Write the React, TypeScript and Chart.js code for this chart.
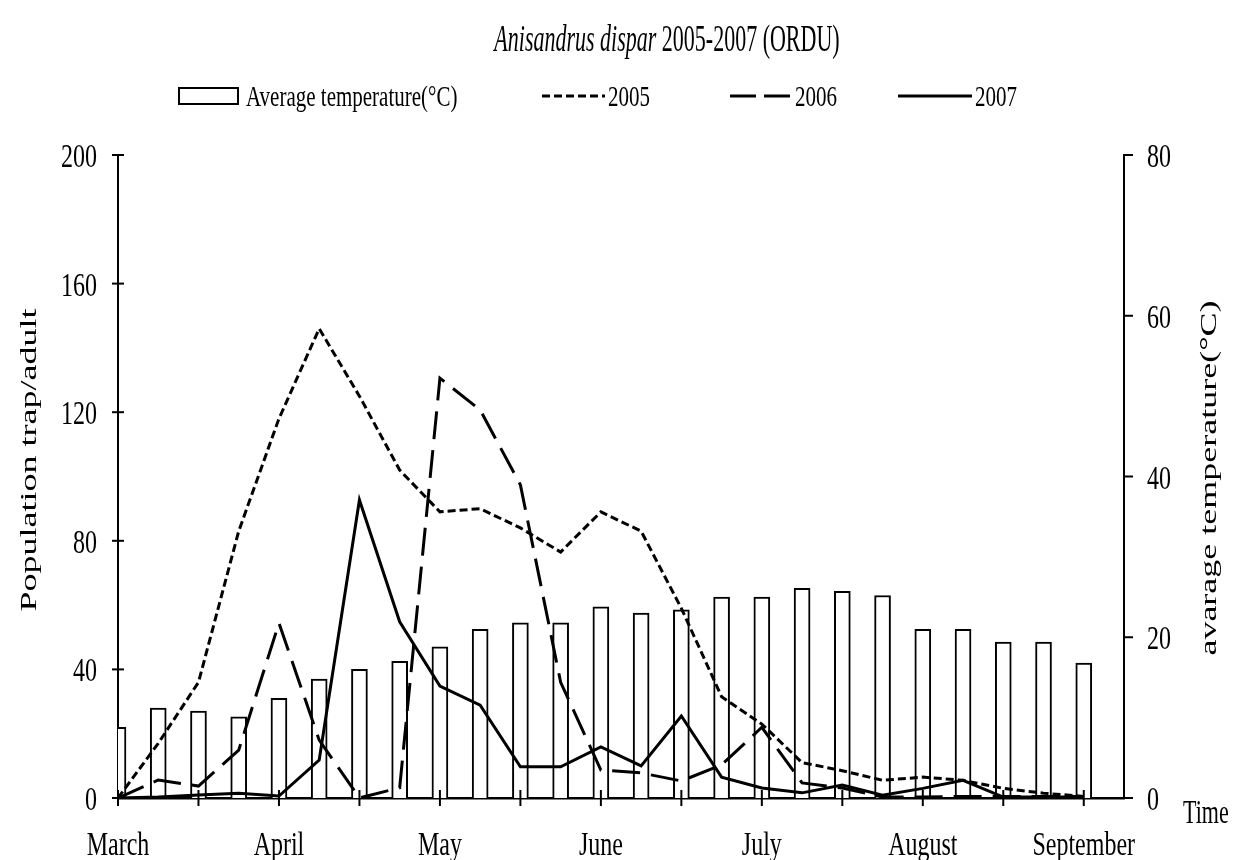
import React, { useEffect, useRef } from 'react';
import { Chart, registerables } from 'chart.js';

Chart.register(...registerables);

// Sampling dates (roughly weekly); the last empty slot is the end of the time axis.
const sampleDates = [
  '1 Mar', '8 Mar', '16 Mar', '24 Mar',
  '1 Apr', '8 Apr', '16 Apr', '24 Apr',
  '1 May', '8 May', '16 May', '24 May',
  '1 Jun', '8 Jun', '16 Jun', '24 Jun',
  '1 Jul', '8 Jul', '16 Jul', '24 Jul',
  '1 Aug', '8 Aug', '16 Aug', '24 Aug',
  '1 Sep', '',
];

const monthTicks = ['March', 'April', 'May', 'June', 'July', 'August', 'September'];

const avgTemperature = [
  8.8, 11.2, 10.8, 10.1, 12.4, 14.8, 16.0, 17.0, 18.8, 21.0, 21.8, 21.8, 23.8,
  23.0, 23.4, 25.0, 25.0, 26.1, 25.7, 25.2, 21.0, 21.0, 19.4, 19.4, 16.8,
];

const pop2005 = [
  0, 17, 36, 83, 118, 146, 125, 102, 89, 90, 84, 76.5, 89, 83, 59, 31.5, 23, 11,
  8.5, 5.5, 6.5, 5.5, 3, 1.5, 0.5,
];

const pop2006 = [
  0, 5.6, 3.7, 14.9, 54.4, 18, 0, 3.2, 130.6, 120.7, 97.4, 36, 8.7, 7.8, 5.3,
  10.3, 22, 4.7, 3.1, 0.3, 0.3, 0.5, 0.5, 0.5, 0.5,
];

const pop2007 = [
  0, 0.3, 0.9, 1.5, 0.6, 11.8, 92.7, 54.8, 34.8, 28.9, 9.7, 9.7, 15.9, 10.0,
  25.5, 6.5, 3.1, 1.6, 4.0, 0.9, 3.0, 5.5, 0.3, 0.3, 0.3,
];

const titleItalic = 'Anisandrus dispar';
const titleRest = ' 2005-2007 (ORDU)';
const leftAxisTitle = 'Population trap/adult';
const rightAxisTitle = 'avarage temperature(°C)';
const timeLabel = 'Time';
const legendLabels = ['Average temperature(°C)', '2005', '2006', '2007'];

const SERIF = '"Liberation Serif", "Times New Roman", serif';

const DASH_2005 = [8, 4];
const DASH_2006 = [28, 11];

function drawStretched(
  ctx: CanvasRenderingContext2D,
  text: string,
  x: number,
  y: number,
  font: string,
  sy: number,
  align: CanvasTextAlign = 'left',
) {
  ctx.save();
  ctx.font = font;
  ctx.textAlign = align;
  ctx.textBaseline = 'alphabetic';
  ctx.translate(x, y);
  ctx.scale(1, sy);
  ctx.fillText(text, 0, 0);
  ctx.restore();
}

const decorPlugin = {
  id: 'decor',
  afterDraw(chart: any) {
    const ctx: CanvasRenderingContext2D = chart.ctx;
    const area = chart.chartArea;
    const xs = chart.scales.x;
    const ys = chart.scales.y;
    const y1s = chart.scales.y1;

    ctx.save();
    ctx.fillStyle = '#000';
    ctx.strokeStyle = '#000';

    // tick marks
    ctx.lineWidth = 2;
    for (let i = 0; i < sampleDates.length - 1; i += 2) {
      const px = xs.getPixelForValue(i);
      ctx.beginPath();
      ctx.moveTo(px, area.bottom - 8);
      ctx.lineTo(px, area.bottom + 8);
      ctx.stroke();
    }
    ys.ticks.forEach((t: any) => {
      const py = ys.getPixelForValue(t.value);
      ctx.beginPath();
      ctx.moveTo(area.left - 6, py);
      ctx.lineTo(area.left + 6, py);
      ctx.stroke();
    });
    y1s.ticks.forEach((t: any) => {
      const py = y1s.getPixelForValue(t.value);
      ctx.beginPath();
      ctx.moveTo(area.right, py);
      ctx.lineTo(area.right + 9, py);
      ctx.stroke();
    });

    // tick labels (taken from the library's scales), vertically stretched like the source
    const tf = `24px ${SERIF}`;
    ys.ticks.forEach((t: any) => {
      const py = ys.getPixelForValue(t.value);
      drawStretched(ctx, String(t.value), area.left - 21, py + 12, tf, 1.4, 'right');
    });
    y1s.ticks.forEach((t: any) => {
      const py = y1s.getPixelForValue(t.value);
      drawStretched(ctx, String(t.value), area.right + 23, py + 12, tf, 1.4, 'left');
    });
    monthTicks.forEach((m, k) => {
      const px = xs.getPixelForValue(k * 4);
      drawStretched(ctx, m, px, area.bottom + 57, tf, 1.4, 'center');
    });

    // title
    const fItalic = `italic 22px ${SERIF}`;
    const fReg = `22px ${SERIF}`;
    ctx.font = fItalic;
    const w1 = ctx.measureText(titleItalic).width;
    ctx.font = fReg;
    const w2 = ctx.measureText(titleRest).width;
    const tx = 667 - (w1 + w2) / 2;
    drawStretched(ctx, titleItalic, tx, 51, fItalic, 1.7);
    drawStretched(ctx, titleRest, tx + w1, 51, fReg, 1.7);

    // legend
    const lf = `21px ${SERIF}`;
    const ly = 96;
    const lb = 106;
    ctx.lineWidth = 2;
    ctx.strokeRect(179, 88, 59, 16);
    drawStretched(ctx, legendLabels[0], 246, lb, lf, 1.4);

    ctx.lineWidth = 3;
    ctx.setLineDash(DASH_2005);
    ctx.beginPath();
    ctx.moveTo(542, ly);
    ctx.lineTo(605, ly);
    ctx.stroke();
    drawStretched(ctx, legendLabels[1], 608, lb, lf, 1.4);

    ctx.setLineDash([26, 8]);
    ctx.beginPath();
    ctx.moveTo(730, ly);
    ctx.lineTo(792, ly);
    ctx.stroke();
    drawStretched(ctx, legendLabels[2], 795, lb, lf, 1.4);

    ctx.setLineDash([]);
    ctx.beginPath();
    ctx.moveTo(898, ly);
    ctx.lineTo(972, ly);
    ctx.stroke();
    drawStretched(ctx, legendLabels[3], 975, lb, lf, 1.4);

    // axis titles (stretched along the baseline)
    const af = `24px ${SERIF}`;
    ctx.save();
    ctx.font = af;
    ctx.textAlign = 'center';
    ctx.textBaseline = 'middle';
    ctx.translate(30, 460);
    ctx.rotate(-Math.PI / 2);
    ctx.scale(1.5, 1);
    ctx.fillText(leftAxisTitle, 0, 0);
    ctx.restore();

    ctx.save();
    ctx.font = af;
    ctx.textAlign = 'center';
    ctx.textBaseline = 'middle';
    ctx.translate(1210, 478);
    ctx.rotate(-Math.PI / 2);
    ctx.scale(1.5, 1);
    ctx.fillText(rightAxisTitle, 0, 0);
    ctx.restore();

    drawStretched(ctx, timeLabel, 1183, 823, `22px ${SERIF}`, 1.5);

    ctx.restore();
  },
};

export default function App() {
  const canvasRef = useRef<HTMLCanvasElement | null>(null);

  useEffect(() => {
    if (!canvasRef.current) return;
    const chart = new Chart(canvasRef.current, {
      type: 'bar',
      data: {
        labels: sampleDates,
        datasets: [
          {
            type: 'line',
            label: '2005',
            data: pop2005,
            yAxisID: 'y',
            borderColor: '#000',
            borderWidth: 3,
            borderDash: DASH_2005,
            pointRadius: 0,
            tension: 0,
            fill: false,
            order: 1,
          },
          {
            type: 'line',
            label: '2006',
            data: pop2006,
            yAxisID: 'y',
            borderColor: '#000',
            borderWidth: 3,
            borderDash: DASH_2006,
            pointRadius: 0,
            tension: 0,
            fill: false,
            order: 2,
          },
          {
            type: 'line',
            label: '2007',
            data: pop2007,
            yAxisID: 'y',
            borderColor: '#000',
            borderWidth: 3,
            pointRadius: 0,
            tension: 0,
            fill: false,
            order: 3,
          },
          {
            type: 'bar',
            label: 'Average temperature(°C)',
            data: avgTemperature,
            yAxisID: 'y1',
            backgroundColor: '#fff',
            borderColor: '#000',
            borderWidth: 2,
            barThickness: 16,
            order: 4,
          },
        ],
      } as any,
      options: {
        animation: false,
        responsive: false,
        maintainAspectRatio: false,
        layout: { padding: { top: 155, left: 0, right: 0, bottom: 0 } },
        plugins: {
          legend: { display: false },
          title: { display: false },
          tooltip: { enabled: false },
        },
        scales: {
          x: {
            type: 'category',
            offset: false,
            grid: { display: false, drawTicks: false },
            border: { display: true, color: '#000', width: 2.5 },
            ticks: { display: false, autoSkip: false, maxRotation: 0 },
            afterFit: (s: any) => {
              s.height = 62;
            },
          },
          y: {
            type: 'linear',
            position: 'left',
            min: 0,
            max: 200,
            grid: { display: false, drawTicks: false },
            border: { display: true, color: '#000', width: 2 },
            ticks: { display: false, stepSize: 40 },
            afterFit: (s: any) => {
              s.width = 118;
            },
          },
          y1: {
            type: 'linear',
            position: 'right',
            min: 0,
            max: 80,
            grid: { display: false, drawTicks: false },
            border: { display: true, color: '#000', width: 2 },
            ticks: { display: false, stepSize: 20 },
            afterFit: (s: any) => {
              s.width = 109;
            },
          },
        },
      } as any,
      plugins: [decorPlugin],
    });
    return () => chart.destroy();
  }, []);

  return (
    <div
      style={{
        position: 'absolute',
        left: 0,
        top: 0,
        width: 1233,
        height: 860,
        background: '#fff',
      }}
    >
      <canvas ref={canvasRef} width={1233} height={860} style={{ display: 'block' }} />
    </div>
  );
}
